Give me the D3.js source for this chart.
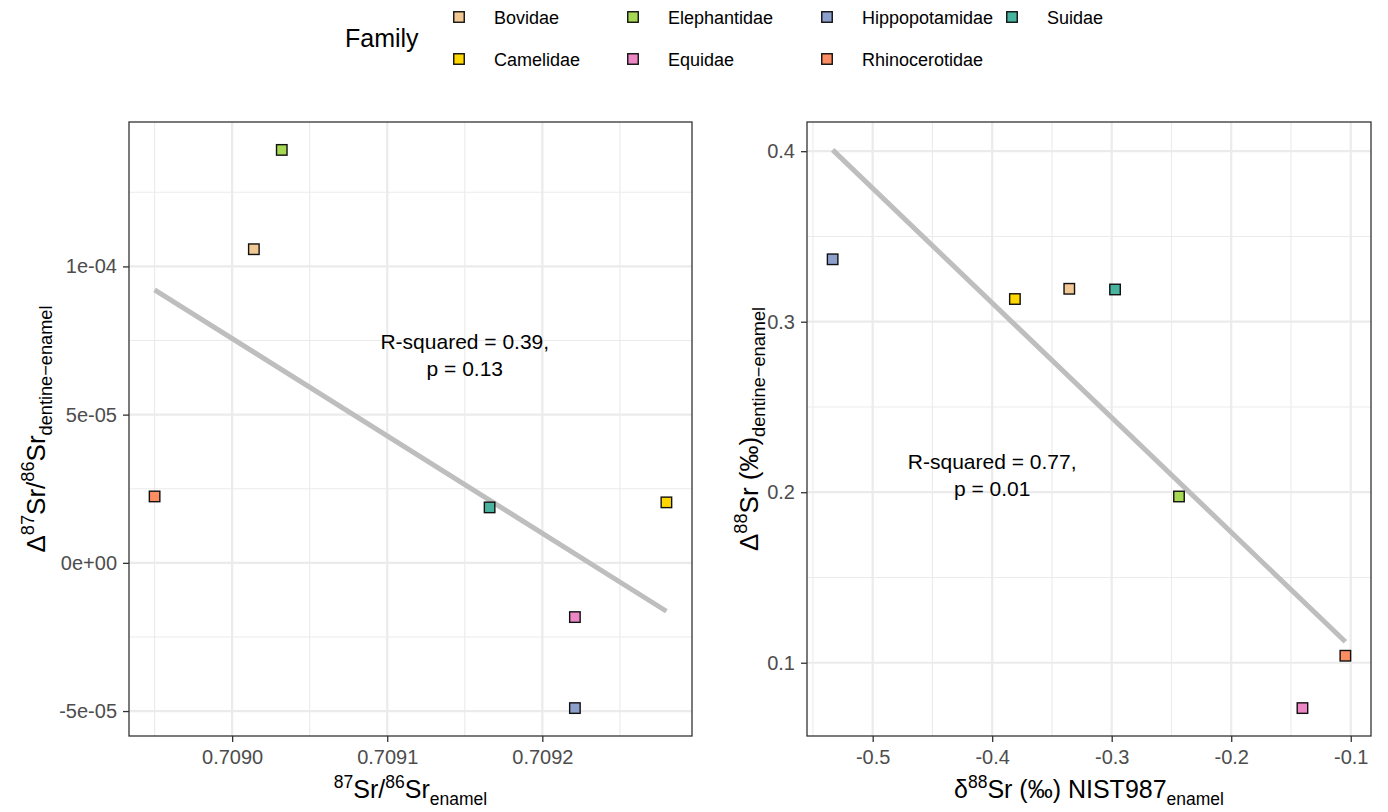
<!DOCTYPE html>
<html>
<head>
<meta charset="utf-8">
<script src="https://cdn.jsdelivr.net/npm/d3@7"></script>
<style>
  body { margin: 0; background: #fff; }
  svg { display: block; font-family: "Liberation Sans", Arial, sans-serif; }
</style>
</head>
<body>
<svg id="chart" width="1388" height="812"></svg>
<script>
// ---- data ----
const families = ['Bovidae', 'Camelidae', 'Elephantidae', 'Equidae', 'Hippopotamidae', 'Rhinocerotidae', 'Suidae'];
const familyColors = ['#F1C894', '#FFD700', '#A6D854', '#EC86C4', '#8DA0CB', '#FC8D62', '#48B39E'];

// left panel: 87Sr/86Sr enamel vs delta 87Sr/86Sr (dentine - enamel)
const sr87Enamel = [0.709014, 0.709280, 0.709032, 0.709221, 0.709221, 0.708950, 0.709166];
const dSr87 = [1.058e-4, 2.04e-5, 1.393e-4, -1.83e-5, -4.9e-5, 2.24e-5, 1.87e-5];

// right panel: d88Sr enamel vs delta 88Sr (dentine - enamel)
const d88Enamel = [-0.3355, -0.381, -0.2437, -0.1404, -0.5335, -0.1045, -0.2972];
const dSr88 = [0.3193, 0.3133, 0.1975, 0.0734, 0.3366, 0.1041, 0.3189];

// tick labels
const leftXTicks = [0.7090, 0.7091, 0.7092];
const leftXLabels = ['0.7090', '0.7091', '0.7092'];
const leftYTicks = [-5e-5, 0, 5e-5, 1e-4];
const leftYLabels = ['-5e-05', '0e+00', '5e-05', '1e-04'];
const rightXTicks = [-0.5, -0.4, -0.3, -0.2, -0.1];
const rightXLabels = ['-0.5', '-0.4', '-0.3', '-0.2', '-0.1'];
const rightYTicks = [0.1, 0.2, 0.3, 0.4];
const rightYLabels = ['0.1', '0.2', '0.3', '0.4'];

// fit annotations
const leftNote = ['R-squared = 0.39,', 'p = 0.13'];
const leftNoteAt = [0.70915, 7e-5];
const rightNote = ['R-squared = 0.77,', 'p = 0.01'];
const rightNoteAt = [-0.4, 0.21];

const svg = d3.select('#chart');
svg.append('rect').attr('width', 1388).attr('height', 812).attr('fill', '#fff');

function linFit(xs, ys) {
    const mx = d3.mean(xs), my = d3.mean(ys);
    let sxy = 0, sxx = 0;
    xs.forEach((v, i) => { sxy += (v - mx) * (ys[i] - my); sxx += (v - mx) * (v - mx); });
    const b = sxy / sxx;
    return {b: b, a: my - b * mx};
}

// ggplot style 5% expansion
function expand(lo, hi) {
    const r = hi - lo;
    return [lo - 0.05 * r, hi + 0.05 * r];
}

function minorOf(ticks, dom) {
    const step = ticks[1] - ticks[0];
    const out = ticks.map(t => t - step / 2).concat([ticks[ticks.length - 1] + step / 2]);
    return out.filter(v => v >= dom[0] && v <= dom[1]);
}

// text made of plain / sup / sub segments
function richText(sel, segs, size) {
    const small = size * 0.7;
    let shift = 0;
    segs.forEach(s => {
        let target = 0;
        if (s[1] === 'sup') target = -size * 0.42;
        if (s[1] === 'sub') target = size * 0.28;
        sel.append('tspan')
            .attr('dy', target - shift)
            .attr('font-size', s[1] ? small : size)
            .text(s[0]);
        shift = target;
    });
}

function drawPanel(p) {
    const fit = linFit(p.xs, p.ys);
    const xExt = d3.extent(p.xs);
    const lineY = xExt.map(v => fit.a + fit.b * v);
    const yExt = d3.extent(p.ys.concat(lineY));
    const xDom = expand(xExt[0], xExt[1]);
    const yDom = expand(yExt[0], yExt[1]);

    const x = d3.scaleLinear().domain(xDom).range([p.x0, p.x1]);
    const y = d3.scaleLinear().domain(yDom).range([p.y1, p.y0]);

    const g = svg.append('g');

    g.append('rect')
        .attr('x', p.x0).attr('y', p.y0)
        .attr('width', p.x1 - p.x0).attr('height', p.y1 - p.y0)
        .attr('fill', '#fff');

    // grid
    g.selectAll('.vmin').data(minorOf(p.xTicks, xDom)).join('line')
        .attr('x1', d => x(d)).attr('x2', d => x(d))
        .attr('y1', p.y0).attr('y2', p.y1)
        .attr('stroke', '#EBEBEB').attr('stroke-width', 1.1);
    g.selectAll('.hmin').data(minorOf(p.yTicks, yDom)).join('line')
        .attr('y1', d => y(d)).attr('y2', d => y(d))
        .attr('x1', p.x0).attr('x2', p.x1)
        .attr('stroke', '#EBEBEB').attr('stroke-width', 1.1);
    g.selectAll('.vmaj').data(p.xTicks).join('line')
        .attr('x1', d => x(d)).attr('x2', d => x(d))
        .attr('y1', p.y0).attr('y2', p.y1)
        .attr('stroke', '#EBEBEB').attr('stroke-width', 2.2);
    g.selectAll('.hmaj').data(p.yTicks).join('line')
        .attr('y1', d => y(d)).attr('y2', d => y(d))
        .attr('x1', p.x0).attr('x2', p.x1)
        .attr('stroke', '#EBEBEB').attr('stroke-width', 2.2);

    // regression line
    g.append('line')
        .attr('x1', x(xExt[0])).attr('y1', y(lineY[0]))
        .attr('x2', x(xExt[1])).attr('y2', y(lineY[1]))
        .attr('stroke', '#BEBEBE').attr('stroke-width', 5);

    // points
    const s = 10.5;
    g.selectAll('.pt').data(families).join('rect')
        .attr('x', (d, i) => x(p.xs[i]) - s / 2)
        .attr('y', (d, i) => y(p.ys[i]) - s / 2)
        .attr('width', s).attr('height', s)
        .attr('fill', (d, i) => familyColors[i])
        .attr('stroke', '#111').attr('stroke-width', 1.4);

    // annotation
    const nx = x(p.noteAt[0]), ny = y(p.noteAt[1]);
    g.selectAll('.note').data(p.note).join('text')
        .attr('x', nx)
        .attr('y', (d, i) => ny + (i - 0.5) * 27 + 7.5)
        .attr('text-anchor', 'middle')
        .attr('font-size', 21)
        .attr('fill', '#000')
        .text(d => d);

    // border
    g.append('rect')
        .attr('x', p.x0).attr('y', p.y0)
        .attr('width', p.x1 - p.x0).attr('height', p.y1 - p.y0)
        .attr('fill', 'none').attr('stroke', '#333').attr('stroke-width', 1.3);

    // axes
    const ax = g.append('g')
        .attr('transform', `translate(0,${p.y1})`)
        .call(d3.axisBottom(x).tickValues(p.xTicks).tickFormat((d, i) => p.xLabels[i]).tickSize(6).tickPadding(8));
    const ay = g.append('g')
        .attr('transform', `translate(${p.x0},0)`)
        .call(d3.axisLeft(y).tickValues(p.yTicks).tickFormat((d, i) => p.yLabels[i]).tickSize(6).tickPadding(6));
    [ax, ay].forEach(a => {
        a.select('.domain').remove();
        a.selectAll('line').attr('stroke', '#333').attr('stroke-width', 1.3);
        a.selectAll('text').attr('font-size', 20).attr('fill', '#4D4D4D')
            .attr('font-family', '"Liberation Sans", Arial, sans-serif');
    });

    // axis titles
    const xt = g.append('text')
        .attr('x', (p.x0 + p.x1) / 2).attr('y', 798)
        .attr('text-anchor', 'middle').attr('fill', '#000');
    richText(xt, p.xTitle, 25);
    const yt = g.append('text')
        .attr('transform', `translate(${p.yTitleX},${(p.y0 + p.y1) / 2}) rotate(-90)`)
        .attr('text-anchor', 'middle').attr('fill', '#000');
    richText(yt, p.yTitle, 26);
}

drawPanel({
    x0: 129, x1: 692, y0: 122, y1: 736,
    xs: sr87Enamel, ys: dSr87,
    xTicks: leftXTicks, xLabels: leftXLabels,
    yTicks: leftYTicks, yLabels: leftYLabels,
    note: leftNote, noteAt: leftNoteAt,
    xTitle: [['87', 'sup'], ['Sr/', null], ['86', 'sup'], ['Sr', null], ['enamel', 'sub']],
    yTitle: [['\u0394', null], ['87', 'sup'], ['Sr/', null], ['86', 'sup'], ['Sr', null], ['dentine\u2212enamel', 'sub']],
    yTitleX: 45
});

drawPanel({
    x0: 807, x1: 1371, y0: 122, y1: 736,
    xs: d88Enamel, ys: dSr88,
    xTicks: rightXTicks, xLabels: rightXLabels,
    yTicks: rightYTicks, yLabels: rightYLabels,
    note: rightNote, noteAt: rightNoteAt,
    xTitle: [['\u03B4', null], ['88', 'sup'], ['Sr (\u2030) NIST987', null], ['enamel', 'sub']],
    yTitle: [['\u0394', null], ['88', 'sup'], ['Sr (\u2030)', null], ['dentine\u2212enamel', 'sub']],
    yTitleX: 758
});

// legend, filled column by column in two rows
const legend = svg.append('g');
legend.append('text')
    .attr('x', 345).attr('y', 47)
    .attr('font-size', 25).attr('fill', '#000')
    .text('Family');

const colX = [459, 633, 827, 1012];
const rowY = [17, 59];
const items = legend.selectAll('.legend-item')
    .data(families)
    .join('g')
    .attr('transform', (d, i) => `translate(${colX[Math.floor(i / 2)]},${rowY[i % 2]})`);

items.append('rect')
    .attr('x', -5.25).attr('y', -5.25)
    .attr('width', 10.5).attr('height', 10.5)
    .attr('fill', (d, i) => familyColors[i])
    .attr('stroke', '#111').attr('stroke-width', 1.4);

items.append('text')
    .attr('x', 35).attr('y', 6.5)
    .attr('font-size', 18).attr('fill', '#000')
    .text(d => d);
</script>
</body>
</html>
